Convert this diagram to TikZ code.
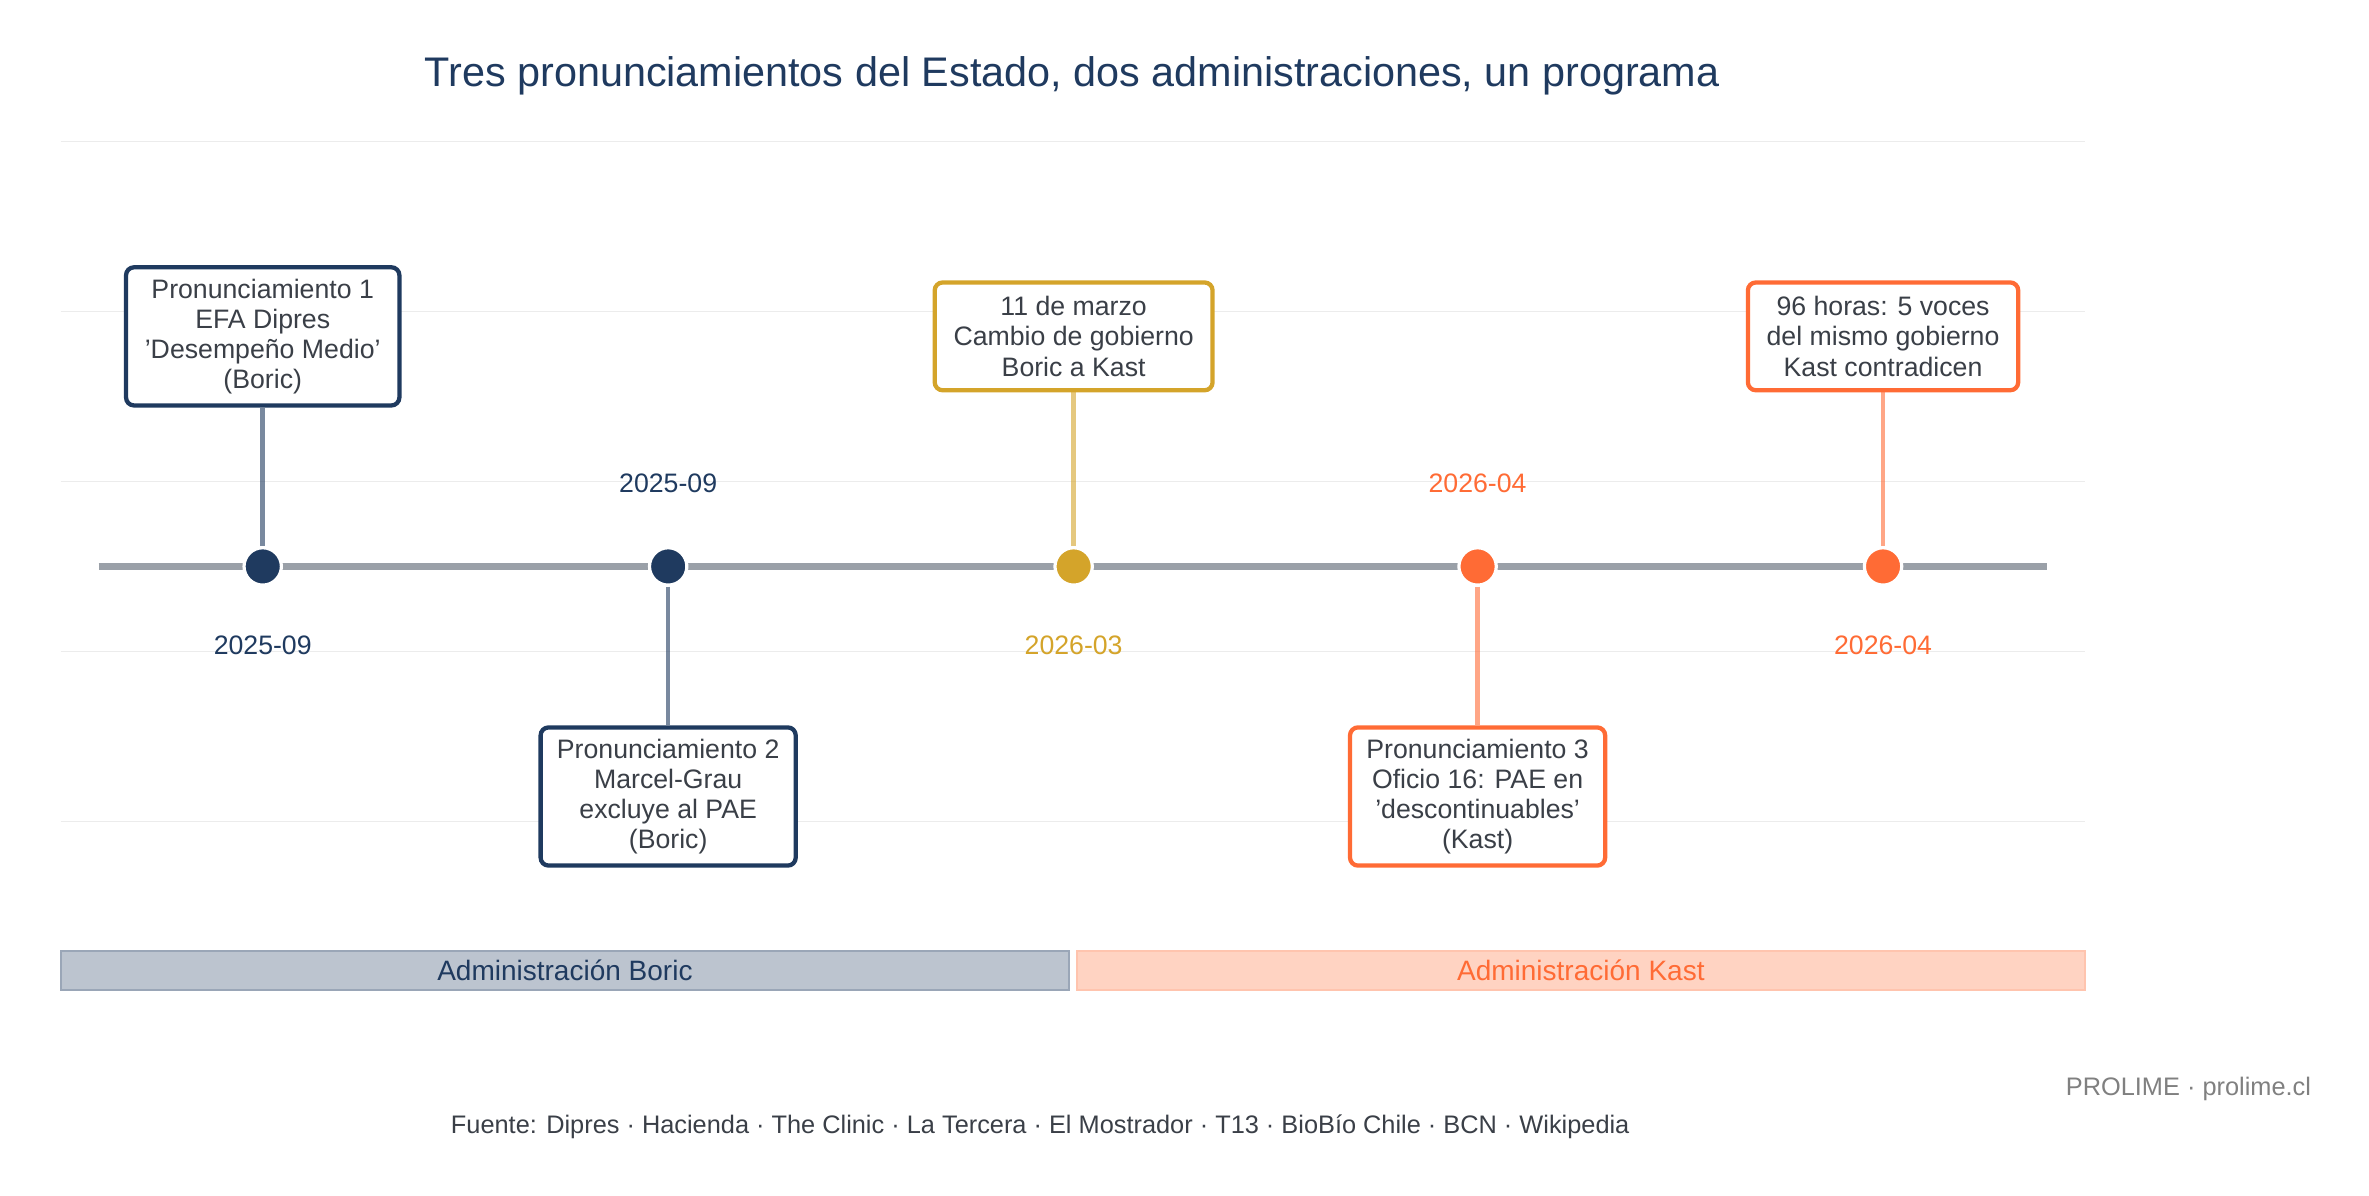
\documentclass[tikz,border=0pt]{standalone}
\usepackage{fontspec}
\setmainfont{Liberation Sans}
\usetikzlibrary{positioning}
\definecolor{navy}{HTML}{1F3A5F}
\definecolor{gold}{HTML}{D4A42A}
\definecolor{tang}{HTML}{FF6B35}
\definecolor{axisgray}{HTML}{9AA0A8}
\definecolor{gridgray}{HTML}{ECECEC}
\definecolor{txtgray}{HTML}{3A3F47}
\newcommand{\sq}{\char39\relax}
\tikzset{
  evbox/.style={draw=#1, line width=1.6pt, rounded corners=3pt, fill=white, align=center,
    text=txtgray, font=\fontsize{10}{11.3}\selectfont, inner sep=3pt},
  evdot/.style={circle, fill=#1, draw=white, line width=1.2pt, minimum size=14pt, inner sep=0pt},
  stem/.style={line width=1.7pt, draw=#1, draw opacity=0.6},
  datelbl/.style={text=#1, font=\fontsize{10}{12}\selectfont},
  band/.style={draw=#1, line width=0.8pt, minimum height=26*0.02cm, inner sep=0pt}
}
\begin{document}
\begin{tikzpicture}[x=0.02cm, y=-0.02cm]
\useasboundingbox (0,0) rectangle (1560,787);

% grid lines
\foreach \gy in {93,205,317,429,541}
  \draw[gridgray, line width=0.5pt] (40,\gy) -- (1373,\gy);

\node[text=navy, font=\fontsize{15.5}{18}\selectfont] (title) at (706,50)
  {Tres pronunciamientos del Estado, dos administraciones, un programa};

% timeline
\coordinate (tl0) at (65,373);
\coordinate (tl1) at (1348,373);
\draw[axisgray, line width=2.4pt] (tl0) -- (tl1);

% events
\node[evbox=navy, minimum width=180*0.02cm, minimum height=91*0.02cm] (b1) at (173,221.5)
  {Pronunciamiento 1\\EFA Dipres\\\sq Desempeño Medio\sq\\(Boric)};
\node[evbox=navy, minimum width=168*0.02cm, minimum height=91*0.02cm] (b2) at (440,524.5)
  {Pronunciamiento 2\\Marcel-Grau\\excluye al PAE\\(Boric)};
\node[evbox=gold, minimum width=183*0.02cm, minimum height=71*0.02cm] (b3) at (707,221.5)
  {11 de marzo\\Cambio de gobierno\\Boric a Kast};
\node[evbox=tang, minimum width=168*0.02cm, minimum height=91*0.02cm] (b4) at (973,524.5)
  {Pronunciamiento 3\\Oficio 16: PAE en\\\sq descontinuables\sq\\(Kast)};
\node[evbox=tang, minimum width=178*0.02cm, minimum height=71*0.02cm] (b5) at (1240,221.5)
  {96 horas: 5 voces\\del mismo gobierno\\Kast contradicen};

\node[evdot=navy] (d1) at (173,373) {};
\node[evdot=navy] (d2) at (440,373) {};
\node[evdot=gold] (d3) at (707,373) {};
\node[evdot=tang] (d4) at (973,373) {};
\node[evdot=tang] (d5) at (1240,373) {};

\draw[stem=navy] (d1) -- (b1);
\draw[stem=navy] (d2) -- (b2);
\draw[stem=gold] (d3) -- (b3);
\draw[stem=tang] (d4) -- (b4);
\draw[stem=tang] (d5) -- (b5);

\node[datelbl=navy] (l1) at (173,425) {2025-09};
\node[datelbl=navy] (l2) at (440,318) {2025-09};
\node[datelbl=gold] (l3) at (707,425) {2026-03};
\node[datelbl=tang] (l4) at (973,318) {2026-04};
\node[datelbl=tang] (l5) at (1240,425) {2026-04};

% administrations
\node[band=navy!45, fill=navy!30, minimum width=664*0.02cm, text=navy,
  font=\fontsize{10.5}{12}\selectfont] (boric) at (372,639) {Administración Boric};
\node[band=tang!40, fill=tang!30, minimum width=664*0.02cm, text=tang,
  font=\fontsize{10.5}{12}\selectfont] (kast) at (1041,639) {Administración Kast};

\node[anchor=east, text=gray, font=\fontsize{9.5}{11}\selectfont] (brand) at (1528,717)
  {PROLIME · prolime.cl};
\node[text=txtgray, font=\fontsize{9.5}{11}\selectfont] (src) at (685,742)
  {Fuente: Dipres · Hacienda · The Clinic · La Tercera · El Mostrador · T13 · BioBío Chile · BCN · Wikipedia};
\end{tikzpicture}
\end{document}
